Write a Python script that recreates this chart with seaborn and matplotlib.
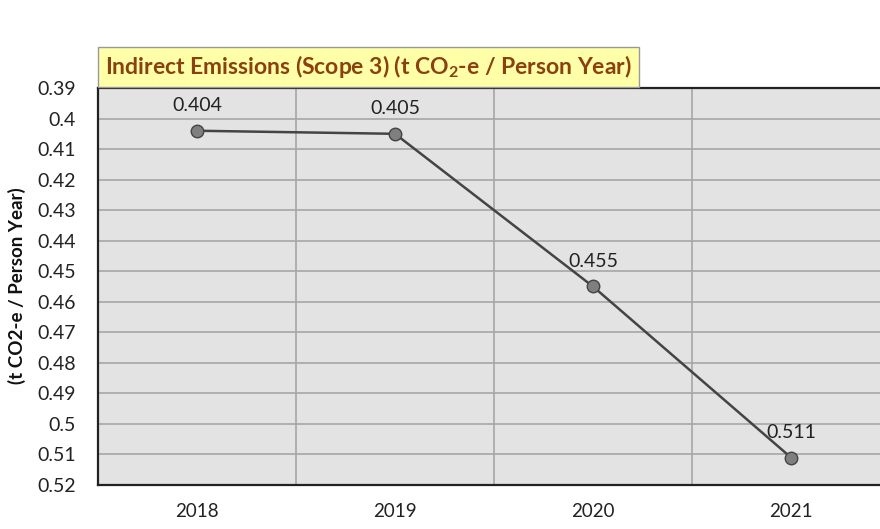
import matplotlib
matplotlib.use("Agg")
import matplotlib.pyplot as plt
import seaborn as sns
import pandas as pd
import numpy as np

years = ["2018", "2019", "2020", "2021"]
values = [0.404, 0.405, 0.455, 0.511]
labels = ["0.404", "0.405", "0.455", "0.511"]
ytick_vals = [0.39, 0.40, 0.41, 0.42, 0.43, 0.44, 0.45, 0.46, 0.47, 0.48, 0.49, 0.50, 0.51, 0.52]
ytick_labels = ["0.39", "0.4", "0.41", "0.42", "0.43", "0.44", "0.45", "0.46", "0.47", "0.48", "0.49", "0.5", "0.51", "0.52"]
title = "Indirect Emissions (Scope 3) (t CO$_2$-e / Person Year)"
ylabel = "(t CO2-e / Person Year)"

sns.set_style("white")
plt.rcParams['font.family'] = ['Lato', 'DejaVu Sans']
plt.rcParams['mathtext.fontset'] = 'custom'
plt.rcParams['mathtext.rm'] = 'Lato:bold'
plt.rcParams['mathtext.it'] = 'Lato:bold'
plt.rcParams['mathtext.bf'] = 'Lato:bold'

df = pd.DataFrame({"year": years, "value": values, "pos": np.arange(len(years))})

fig = plt.figure(figsize=(8.8, 5.29), dpi=100)
ax = fig.add_axes([98/880, 1-485/529, 792/880, 397/529])
ax.set_facecolor("#E3E3E3")

sns.lineplot(data=df, x="pos", y="value", ax=ax, color="#444444", linewidth=1.8,
             marker="o", markersize=9, markerfacecolor="#7F7F7F",
             markeredgecolor="#444444", markeredgewidth=1.0, zorder=5)

ax.set_xlim(-0.5, len(years) - 0.5)
ax.set_ylim(0.52, 0.39)
ax.set_yticks(ytick_vals)
ax.set_yticklabels(ytick_labels, fontsize=14, color="#222222")
ax.set_xticks(np.arange(len(years)))
ax.set_xticklabels(years, fontsize=13.5, color="#222222")
ax.set_xticks(np.arange(len(years) + 1) - 0.5, minor=True)
ax.tick_params(axis="x", which="major", length=0, pad=13)
ax.tick_params(axis="x", which="minor", length=6, width=1, color="#888888")
ax.tick_params(axis="y", which="major", length=6, width=1, color="#888888", pad=10)
ax.grid(axis="y", which="major", color="#A6A6A6", linewidth=1.2)
ax.grid(axis="x", which="minor", color="#A6A6A6", linewidth=1.2)
ax.set_axisbelow(True)
for s in ["left", "bottom", "top"]:
    ax.spines[s].set_color("#222222")
    ax.spines[s].set_linewidth(1.6)
ax.spines["right"].set_visible(False)
ax.set_xlabel("")
ax.set_ylabel(ylabel, fontsize=13.5, fontweight="bold", color="#111111")
ax.yaxis.set_label_coords(-72/792, (485-286)/397)

for i, (v, t) in enumerate(zip(values, labels)):
    ax.annotate(t, (i, v), xytext=(0, 12), textcoords="offset points",
                ha="center", va="bottom", fontsize=14, color="#222222")

fig.text(105/880, 1-67/529, title, fontsize=16.5, fontweight="bold", color="#8B4010",
         ha="left", va="center",
         bbox=dict(boxstyle="square,pad=0.3", facecolor="#FFFFA8", edgecolor="#999999", linewidth=1))

fig.savefig("out.png", dpi=100)
